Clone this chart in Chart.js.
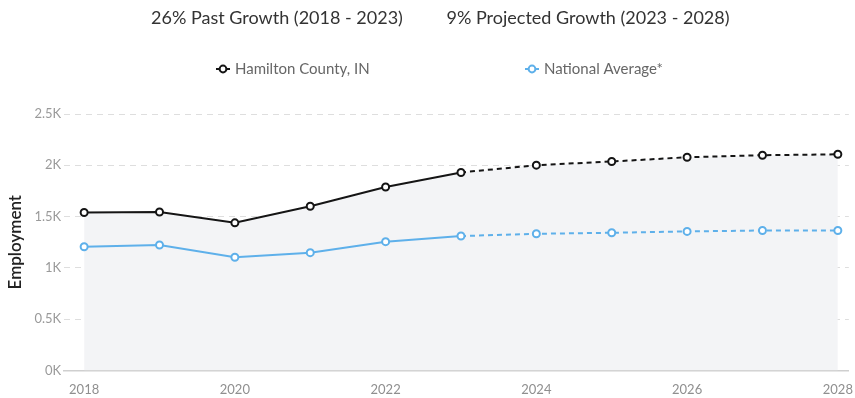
<!DOCTYPE html>
<html>
<head>
<meta charset="utf-8">
<title>Employment</title>
<script src="https://cdn.jsdelivr.net/npm/chart.js@4.4.1/dist/chart.umd.min.js"></script>
<style>
  html, body { margin: 0; padding: 0; background: #fff; }
  #wrap { width: 855px; height: 398px; position: relative; }
</style>
</head>
<body>
<div id="wrap"><canvas id="employmentChart"></canvas></div>
<script>
const years = [2018, 2019, 2020, 2021, 2022, 2023, 2024, 2025, 2026, 2027, 2028];
const hamiltonCounty = [1540, 1545, 1439, 1601, 1788, 1930, 2001, 2037, 2078, 2098, 2107];
const nationalAverage = [1206, 1223, 1103, 1148, 1255, 1310, 1332, 1342, 1355, 1364, 1364];
const xTickYears = [2018, 2020, 2022, 2024, 2026, 2028];
const lastActualYear = 2023;
const headlines = ["26% Past Growth (2018 - 2023)", "9% Projected Growth (2023 - 2028)"];
const seriesNames = ["Hamilton County, IN", "National Average*"];

const BLACK = "#151515";
const BLUE = "#5eb0ea";

function toPoints(values) {
  return years.map((yr, i) => ({ x: yr, y: values[i] }));
}

// projected years are drawn dashed
const projectedDash = ctx => ctx.p0.parsed.x >= lastActualYear ? [5, 4] : undefined;

// headline row and legend row drawn above the plot
const headerPlugin = {
  id: "header",
  afterDraw(chart) {
    const c = chart.ctx;
    c.save();
    c.textBaseline = "middle";
    c.textAlign = "center";
    c.fillStyle = "#333";
    c.font = "18px Lato";
    c.fillText(headlines[0], 277, 18);
    c.fillText(headlines[1], 588, 18);

    const items = [
      { x: 223, color: BLACK, text: seriesNames[0] },
      { x: 532, color: BLUE, text: seriesNames[1] }
    ];
    c.textAlign = "left";
    c.font = "15px Lato";
    items.forEach(it => {
      c.strokeStyle = it.color;
      c.lineWidth = 2;
      c.beginPath();
      c.moveTo(it.x - 7, 69);
      c.lineTo(it.x + 7, 69);
      c.stroke();
      c.beginPath();
      c.arc(it.x, 69, 3.4, 0, Math.PI * 2);
      c.fillStyle = "#fff";
      c.fill();
      c.stroke();
      c.fillStyle = "#666";
      c.fillText(it.text, it.x + 12, 69);
    });
    c.restore();
  }
};

const lineStyle = color => ({
  borderColor: color,
  borderWidth: 2,
  pointRadius: 3.5,
  pointBorderWidth: 2,
  pointBackgroundColor: "#fff",
  pointBorderColor: color,
  tension: 0,
  segment: { borderDash: projectedDash }
});

new Chart(document.getElementById("employmentChart"), {
  type: "line",
  data: {
    datasets: [
      Object.assign({ label: seriesNames[1], data: toPoints(nationalAverage), fill: false, order: 0 }, lineStyle(BLUE)),
      Object.assign({ label: seriesNames[0], data: toPoints(hamiltonCounty), fill: false, order: 1 }, lineStyle(BLACK)),
      // shaded area under the county series
      {
        label: "area",
        data: toPoints(hamiltonCounty),
        fill: "origin",
        backgroundColor: "#f3f4f6",
        borderWidth: 0,
        borderColor: "rgba(0,0,0,0)",
        pointRadius: 0,
        tension: 0,
        order: 2
      }
    ]
  },
  options: {
    responsive: true,
    maintainAspectRatio: false,
    animation: false,
    layout: { padding: { top: 114, left: 5, right: 0, bottom: -2 } },
    plugins: {
      legend: { display: false },
      tooltip: { enabled: false }
    },
    scales: {
      x: {
        type: "linear",
        min: 2017.735,
        max: 2028.146,
        afterBuildTicks: scale => {
          scale.ticks = xTickYears.map(v => ({ value: v }));
        },
        grid: { display: false, drawTicks: true, tickLength: 10 },
        border: { display: true, color: "#cfcfcf", width: 1.5 },
        ticks: {
          color: "#8f8f8f",
          font: { family: "Lato", size: 13 },
          padding: 2,
          maxRotation: 0,
          callback: v => String(v)
        }
      },
      y: {
        min: 0,
        max: 2500,
        ticks: {
          stepSize: 500,
          color: "#9a9a9a",
          font: { family: "Lato", size: 13 },
          padding: 3,
          callback: v => (v / 1000) + "K"
        },
        grid: {
          drawTicks: false,
          color: ctx => ctx.tick && ctx.tick.value === 0 ? "rgba(0,0,0,0)" : "#dedede"
        },
        border: { display: false, dash: [6, 5] },
        title: {
          display: true,
          text: "Employment",
          color: "#222",
          font: { family: "Lato", size: 17, weight: "600" },
          padding: { top: 0, bottom: 6 }
        }
      }
    }
  },
  plugins: [headerPlugin]
});
</script>
</body>
</html>
